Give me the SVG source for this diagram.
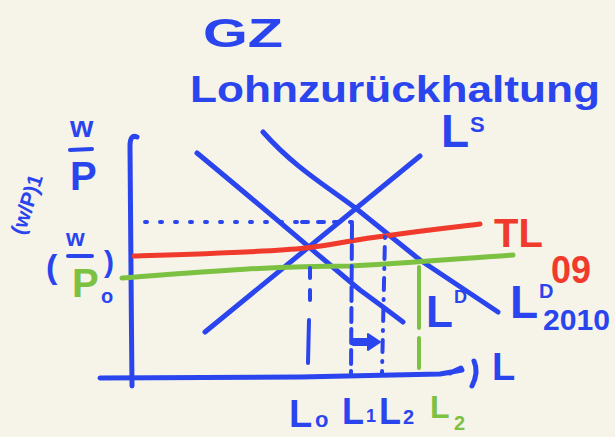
<svg xmlns="http://www.w3.org/2000/svg" width="615" height="437" viewBox="0 0 615 437">
<style>
.ln{fill:none;stroke-linecap:round;stroke-linejoin:round}
.bl{stroke:#2b45ee}
.rd{stroke:#f03a2c}
.gr{stroke:#7cc142}
.t{font-family:"Liberation Sans",Arial,sans-serif;font-weight:bold}
.tb{fill:#2b45ee}
.tr{fill:#f03a2c}
.tg{fill:#7cc142}
</style>
<rect width="615" height="437" fill="#f6f3e8"/>
<g id="title">
<text class="t tb" x="203" y="47" font-size="40" textLength="80" lengthAdjust="spacingAndGlyphs">GZ</text>
<text class="t tb" x="190" y="102" font-size="36" textLength="410" lengthAdjust="spacingAndGlyphs">Lohnzurückhaltung</text>
</g>
<g id="axes">
<path class="ln bl" stroke-width="5" d="M132 386 C131 300 131 200 130 146 Q130 134 137 137"/>
<path class="ln bl" stroke-width="5" d="M100 378 L300 377 L440 374 Q452 372 462 370 M450 373 L461 368"/>
<path class="ln bl" stroke-width="5" d="M474 361 Q479 372 472 386"/>
<text class="t tb" x="492" y="380" font-size="38">L</text>
</g>
<g id="ylabels">
<text class="t tb" x="70" y="137" font-size="30">w</text>
<path class="ln bl" stroke-width="4" d="M70 150 L92 149"/>
<text class="t tb" x="70" y="190" font-size="40">P</text>
<text class="t tb" font-size="21" transform="translate(24,236) rotate(-72)">(w/P)1</text>
<text class="t tb" x="46" y="278" font-size="34">(</text>
<text class="t tb" x="66" y="246" font-size="24">w</text>
<path class="ln bl" stroke-width="4" d="M68 256 L92 256"/>
<text class="t tg" x="72" y="297" font-size="40">P</text>
<text class="t tb" x="104" y="272" font-size="30">)</text>
<text class="t tb" x="101" y="303" font-size="20">o</text>
</g>
<g id="curves">
<path id="LD" class="ln bl" stroke-width="5" d="M197 153 C260 205 330 265 360 290 Q390 312 403 322"/>
<path id="LD2010" class="ln bl" stroke-width="5" d="M263 132 C295 168 325 185 358 210 L420 260 L498 312"/>
<path id="LS" class="ln bl" stroke-width="5" d="M205 332 L420 156"/>
<path id="TL" class="ln rd" stroke-width="5" d="M134 256 C200 254 270 252 305 248 C335 245 355 239 385 236 C425 230 455 227 480 224"/>
<path id="green" class="ln gr" stroke-width="5" d="M122 278 C200 272 270 266 350 266 C420 262 470 258 513 255"/>
</g>
<g id="connectors">
<path class="ln bl" stroke-width="4" stroke-dasharray="2 13" d="M145 222 L300 222"/>
<path class="ln bl" stroke-width="4" stroke-dasharray="6 10" d="M302 222 L352 222"/>
<path class="ln bl" stroke-width="4" stroke-dasharray="10 12" d="M310 268 L310 300"/>
<path class="ln bl" stroke-width="4" d="M309 320 L308 363"/>
<path class="ln bl" stroke-width="4" stroke-dasharray="14 7" d="M352 224 L351 373"/>
<path class="ln bl" stroke-width="4" stroke-dasharray="1 9 12 9" d="M385 237 L382 373"/>
<path class="ln gr" stroke-width="4" d="M419 267 L419 328 M419 338 L419 368"/>
<path class="ln bl" stroke-width="8" d="M354 342 L370 342"/>
<path fill="#2b45ee" stroke="#2b45ee" stroke-width="2" stroke-linejoin="round" d="M368 334 L380 342 L368 350 Z"/>
</g>
<g id="labels">
<text class="t tb" x="441" y="147" font-size="46">L</text>
<text class="t tb" x="470" y="132" font-size="22">S</text>
<text class="t tb" x="426" y="327" font-size="44">L</text>
<text class="t tb" x="454" y="303" font-size="18">D</text>
<text class="t tr" x="494" y="247" font-size="40">TL</text>
<text class="t tr" x="551" y="283" font-size="38" textLength="40" lengthAdjust="spacingAndGlyphs">09</text>
<text class="t tb" x="510" y="318" font-size="46">L</text>
<text class="t tb" x="539" y="298" font-size="20">D</text>
<text class="t tb" x="543" y="330" font-size="30" textLength="67" lengthAdjust="spacingAndGlyphs">2010</text>
<text class="t tb" x="289" y="427" font-size="38">L</text>
<text class="t tb" x="315" y="427" font-size="22">o</text>
<text class="t tb" x="342" y="424" font-size="36">L</text>
<text class="t tb" x="366" y="422" font-size="18">1</text>
<text class="t tb" x="379" y="424" font-size="36">L</text>
<text class="t tb" x="403" y="424" font-size="20">2</text>
<text class="t tg" x="430" y="418" font-size="32">L</text>
<text class="t tg" x="454" y="430" font-size="20">2</text>
</g>
</svg>
